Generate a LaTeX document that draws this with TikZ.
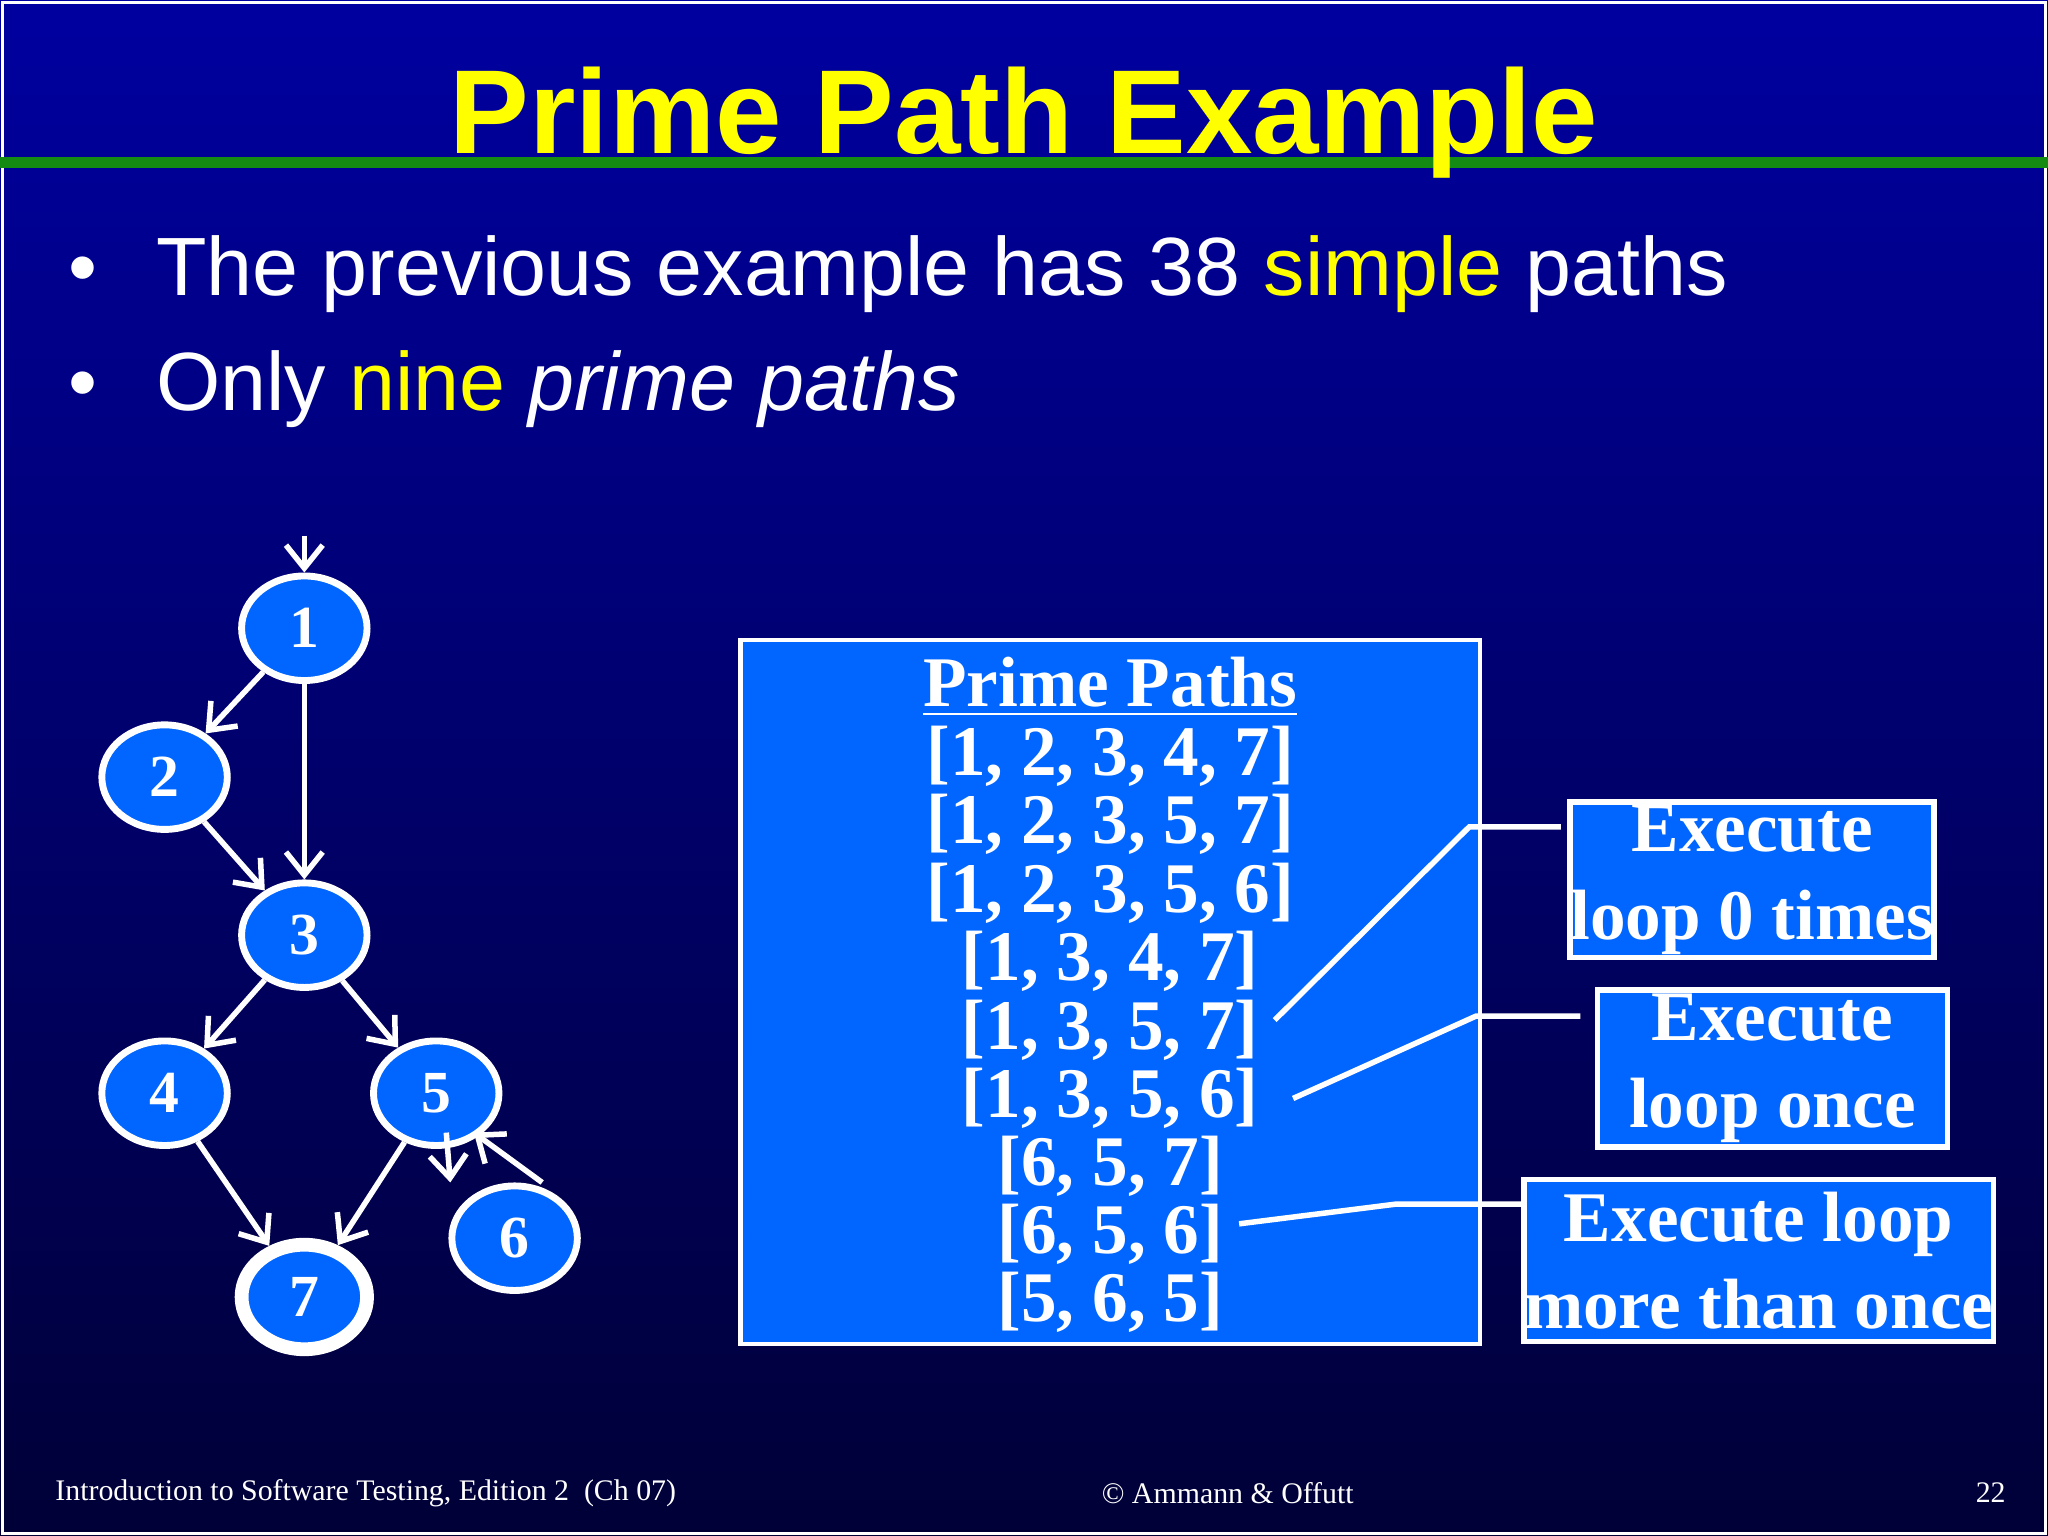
\documentclass[tikz,border=0pt]{standalone}
\usepackage{fontspec}
\setmainfont{Liberation Serif}
\newfontfamily\arial{Liberation Sans}
\usetikzlibrary{shapes.geometric,arrows.meta}
\definecolor{nodeblue}{RGB}{0,102,255}
\definecolor{topblue}{RGB}{0,0,160}
\definecolor{botblue}{RGB}{0,0,55}
\definecolor{ttlyellow}{RGB}{255,255,0}
\definecolor{barGreen}{RGB}{20,140,20}
\tikzset{
 gn/.style={ellipse,draw=white,line width=1.5pt,fill=nodeblue,minimum width=0.96cm,minimum height=0.80cm,inner sep=0pt,text=white,font=\fontsize{13}{13}\selectfont\bfseries},
 ed/.style={draw=white,line width=1.2pt,-{Straight Barb[length=5pt,width=8pt]}},
 callout/.style={draw=white,line width=1.2pt,fill=nodeblue,text=white,align=center,font=\fontsize{15.5}{19}\selectfont\bfseries,inner sep=0pt},
 lead/.style={draw=white,line width=1.2pt},
 ptxt/.style={text=white,font=\fontsize{15.5}{15.5}\selectfont\bfseries,anchor=center},
}
\begin{document}
\begin{tikzpicture}[x=0.01cm,y=-0.01cm]
\shade[top color=topblue,bottom color=botblue] (0,0) rectangle (1568,1176);
\useasboundingbox (0,0) rectangle (1568,1176);
\draw[white,line width=0.8pt] (2,2) rectangle (1566,1174);
\fill[barGreen] (0,120) rectangle (1568,129);
\node (title) at (784,94) {\arial\bfseries\fontsize{26}{26}\selectfont\textcolor{ttlyellow}{Prime Path Example}};
\node[anchor=west,text=white] (b1) at (40,210) {\arial\fontsize{18}{18}\selectfont\textbullet\hspace{0.45cm}The previous example has 38 \textcolor{ttlyellow}{simple} paths};
\node[anchor=west,text=white] (b2) at (40,298) {\arial\fontsize{18}{18}\selectfont\textbullet\hspace{0.45cm}Only \textcolor{ttlyellow}{nine} \textit{prime paths}};
% graph
\node[gn] (n1) at (233,481) {1};
\node[gn] (n2) at (126,595) {2};
\node[gn] (n3) at (233,716) {3};
\node[gn] (n4) at (126,837) {4};
\node[gn] (n5) at (334,837) {5};
\node[gn] (n6) at (394,948) {6};
\node[gn,line width=3pt] (n7) at (233,993) {7};
\coordinate (st) at (233,410);
\draw[ed] (st) -- (n1);
\draw[ed] (n1) -- (n2);
\draw[ed] (n1) -- (n3);
\draw[ed] (n2) -- (n3);
\draw[ed] (n3) -- (n4);
\draw[ed] (n3) -- (n5);
\draw[ed] (n4) -- (n7);
\draw[ed] (n5) -- (n7);
\draw[ed] ([xshift=-8]n5.south east) -- ([xshift=-14]n6.north);
\draw[ed] ([xshift=6]n6.north) -- ([xshift=-2]n5.south east);
% box
\draw[white,line width=1pt,fill=nodeblue] (567,490) rectangle (1133,1029);
\node[ptxt] (h) at (850,526) {\underline{Prime Paths}};
\node[ptxt] (p1) at (850,579) {[1, 2, 3, 4, 7]};
\node[ptxt] (p2) at (850,631) {[1, 2, 3, 5, 7]};
\node[ptxt] (p3) at (850,684) {[1, 2, 3, 5, 6]};
\node[ptxt] (p4) at (850,736) {[1, 3, 4, 7]};
\node[ptxt] (p5) at (850,789) {[1, 3, 5, 7]};
\node[ptxt] (p6) at (850,841) {[1, 3, 5, 6]};
\node[ptxt] (p7) at (850,893) {[6, 5, 7]};
\node[ptxt] (p8) at (850,945) {[6, 5, 6]};
\node[ptxt] (p9) at (850,997) {[5, 6, 5]};
% callouts
\node[callout,minimum width=2.67cm,minimum height=1.19cm] (c1) at (1341.5,673.5) {Execute\\loop 0 times};
\node[callout,minimum width=2.68cm,minimum height=1.20cm] (c2) at (1357,818) {Execute\\loop once};
\node[callout,minimum width=3.39cm,minimum height=1.24cm] (c3) at (1346.5,965) {Execute loop\\more than once};
\coordinate (k1) at (1125,633); \coordinate (e1) at (1195,633);
\coordinate (k2) at (1130,778); \coordinate (e2) at (1210,778);
\coordinate (k3) at (1068,922); \coordinate (e3) at (1165,922);
\draw[lead] (p5.east) ++(0,-8) -- (k1) -- (e1);
\draw[lead] ([xshift=4]p6.east) -- (k2) -- (e2);
\draw[lead] (p8.east) ++(0,-8) -- (k3) -- (e3);
% footer
\node[anchor=west,text=white,font=\fontsize{6.5}{6.5}\selectfont] (f1) at (30,1143) {Introduction to Software Testing, Edition 2\ \ (Ch 07)};
\node[text=white,font=\fontsize{6.5}{6.5}\selectfont] (f2) at (940,1143) {\textcopyright{} Ammann \& Offutt};
\node[anchor=east,text=white,font=\fontsize{6.5}{6.5}\selectfont] (f3) at (1548,1143) {22};
\end{tikzpicture}
\end{document}
